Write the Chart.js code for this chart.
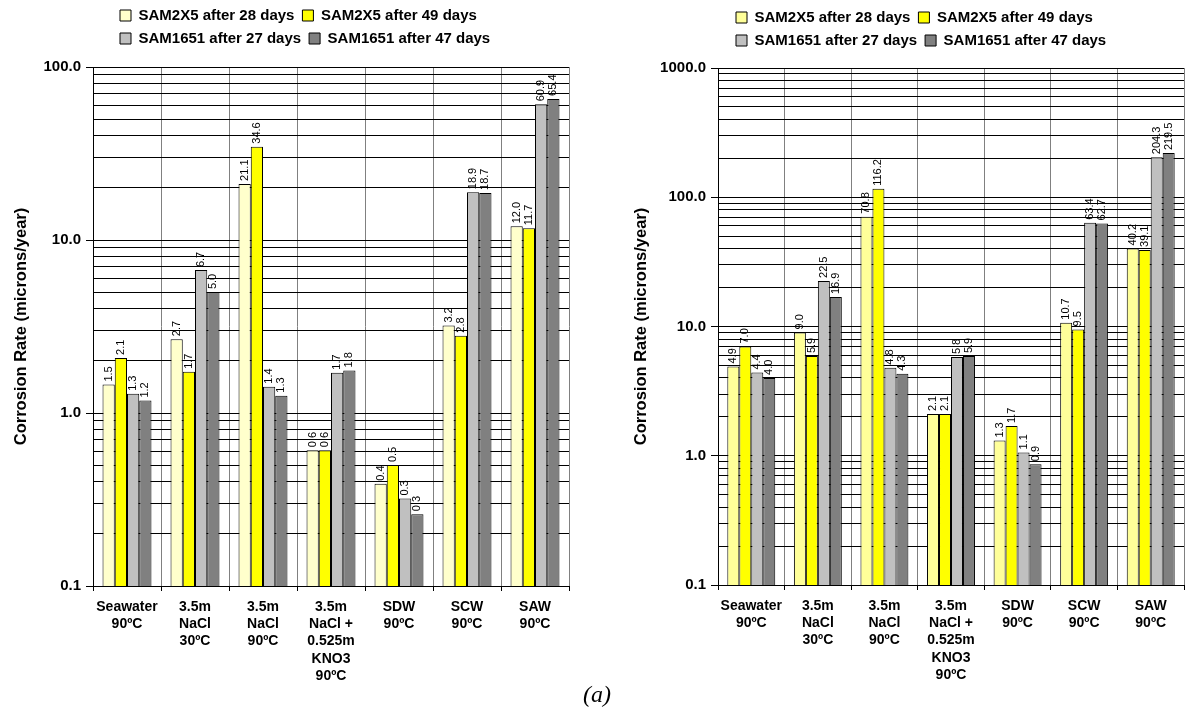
<!DOCTYPE html>
<html><head><meta charset="utf-8">
<script src="https://cdn.jsdelivr.net/npm/chart.js@4.4.1/dist/chart.umd.min.js"></script>
<style>
html,body{margin:0;padding:0;background:#fff;width:1191px;height:711px;overflow:hidden;}
#c1{position:absolute;left:0;top:0;}
#c2{position:absolute;left:620px;top:0;}
#cap{position:absolute;left:583px;top:682px;font:italic 24px "Liberation Serif","Times New Roman",serif;line-height:24px;}
</style></head><body>
<canvas id="c1" width="595" height="711"></canvas>
<canvas id="c2" width="571" height="711"></canvas>
<div id="cap">(a)</div>
<script>
// ---- data ----
const categories = [["Seawater","90ºC"],["3.5m","NaCl","30ºC"],["3.5m","NaCl","90ºC"],["3.5m","NaCl +","0.525m","KNO3","90ºC"],["SDW","90ºC"],["SCW","90ºC"],["SAW","90ºC"]];
const seriesNames = ["SAM2X5 after 28 days","SAM2X5 after 49 days","SAM1651 after 27 days","SAM1651 after 47 days"];

// left chart
const leftSAM2X5_28 = [1.46, 2.67, 21.1, 0.61, 0.39, 3.2, 12.0];
const leftSAM2X5_49 = [2.08, 1.73, 34.6, 0.61, 0.5, 2.8, 11.7];
const leftSAM1651_27 = [1.29, 6.7, 1.42, 1.71, 0.32, 18.9, 60.9];
const leftSAM1651_47 = [1.18, 5.0, 1.26, 1.76, 0.26, 18.7, 65.4];
const leftMajorTicks = [0.1, 1, 10, 100];

// right chart
const rightSAM2X5_28 = [4.9, 9.0, 70.8, 2.1, 1.31, 10.7, 40.2];
const rightSAM2X5_49 = [7.0, 5.9, 116.2, 2.1, 1.7, 9.5, 39.1];
const rightSAM1651_27 = [4.4, 22.5, 4.8, 5.8, 1.06, 63.4, 204.3];
const rightSAM1651_47 = [4.0, 16.9, 4.3, 5.9, 0.86, 62.7, 219.5];
const rightMajorTicks = [0.1, 1, 10, 100, 1000];

const axisTitle = "Corrosion Rate (microns/year)";
const leftColors = ["#FFFFCC", "#FFFF00", "#C0C0C0", "#808080"];
const rightColors = ["#FFFF99", "#FFFF00", "#C0C0C0", "#808080"];

Chart.defaults.font.family = '"Liberation Sans", Arial, sans-serif';
Chart.defaults.color = '#000';

const barLabels = {
  id: 'barLabels',
  afterDatasetsDraw(chart) {
    const ctx = chart.ctx;
    ctx.save();
    ctx.font = '11px "Liberation Sans", Arial, sans-serif';
    ctx.fillStyle = '#000';
    ctx.textAlign = 'left';
    ctx.textBaseline = 'middle';
    chart.data.datasets.forEach((ds, i) => {
      chart.getDatasetMeta(i).data.forEach((bar, j) => {
        ctx.save();
        ctx.translate(bar.x, bar.y - 3);
        ctx.rotate(-Math.PI / 2);
        ctx.fillText(ds.data[j].toFixed(1), 0, 0);
        ctx.restore();
      });
    });
    ctx.restore();
  }
};

function makeChart(id, seriesVals, colors, majors, opt) {
  const maxY = majors[majors.length - 1];
  const gridVals = [];
  for (let k = 0; k < majors.length - 1; k++) {
    for (let s = 1; s < 10; s++) gridVals.push(+(s * majors[k]).toPrecision(3));
  }
  gridVals.push(maxY);
  const legendPlace = {
    id: 'legendPlace',
    beforeLayout(chart) {
      const lg = chart.legend;
      if (lg && !lg._wrapped) {
        const f = lg.fit;
        lg.fit = function () {
          this.maxWidth = Math.min(this.maxWidth, 420);
          f.call(this);
          this.height += opt.legendExtra;
        };
        lg._wrapped = true;
      }
    },
    afterLayout(chart) {
      const lg = chart.legend;
      if (lg) { lg.left = opt.legendLeft; lg.right = opt.legendLeft + 420; lg.width = 420; }
    }
  };
  return new Chart(document.getElementById(id), {
    type: 'bar',
    data: {
      labels: categories,
      datasets: seriesVals.map((v, i) => ({
        label: seriesNames[i], data: v, backgroundColor: colors[i],
        borderColor: '#000', borderWidth: 1
      }))
    },
    options: {
      responsive: false, animation: false, devicePixelRatio: 1,
      layout: { padding: { left: 0, right: opt.rightPad, top: opt.topPad, bottom: 0 } },
      datasets: { bar: { categoryPercentage: 0.72, barPercentage: 1 } },
      plugins: {
        legend: {
          position: 'top', align: 'start',
          labels: { font: { size: 15, weight: 'bold' }, color: '#000', boxWidth: 11, boxHeight: 11, padding: 8 }
        },
        tooltip: { enabled: false }
      },
      scales: {
        x: {
          grid: { color: '#808080', lineWidth: 1, offset: true, tickLength: 5, tickColor: '#000' },
          border: { color: '#000', width: 1 },
          ticks: { font: { size: 14, weight: 'bold', lineHeight: 1.24 }, color: '#000', maxRotation: 0, minRotation: 0, autoSkip: false, padding: 7 },
          afterFit(s) { s.height = opt.xHeight; }
        },
        y: {
          type: 'logarithmic', min: 0.1, max: maxY,
          afterBuildTicks(s) { s.ticks = gridVals.map(v => ({ value: v, major: majors.includes(v) })); },
          ticks: {
            autoSkip: false, color: '#000', padding: 5,
            font: { size: 15, weight: 'bold' },
            callback: (v) => majors.includes(v) ? v.toFixed(1) : ''
          },
          grid: {
            color: '#000', lineWidth: 1, tickLength: 7,
            tickColor: (c) => (c.tick && c.tick.major) ? '#000' : 'rgba(0,0,0,0)'
          },
          border: { color: '#000', width: 1 },
          title: { display: true, text: axisTitle, color: '#000', font: { size: 16.5, weight: 'bold' }, padding: { top: 12, bottom: 0 } },
          afterFit(s) { s.width = opt.yWidth; }
        }
      }
    },
    plugins: [barLabels, legendPlace]
  });
}

makeChart('c1', [leftSAM2X5_28, leftSAM2X5_49, leftSAM1651_27, leftSAM1651_47], leftColors, leftMajorTicks,
  { rightPad: 26, topPad: 0, legendExtra: 11, xHeight: 125, yWidth: 93, legendLeft: 112 });
makeChart('c2', [rightSAM2X5_28, rightSAM2X5_49, rightSAM1651_27, rightSAM1651_47], rightColors, rightMajorTicks,
  { rightPad: 7, topPad: 2, legendExtra: 10, xHeight: 126, yWidth: 98, legendLeft: 108 });
</script>
</body></html>
